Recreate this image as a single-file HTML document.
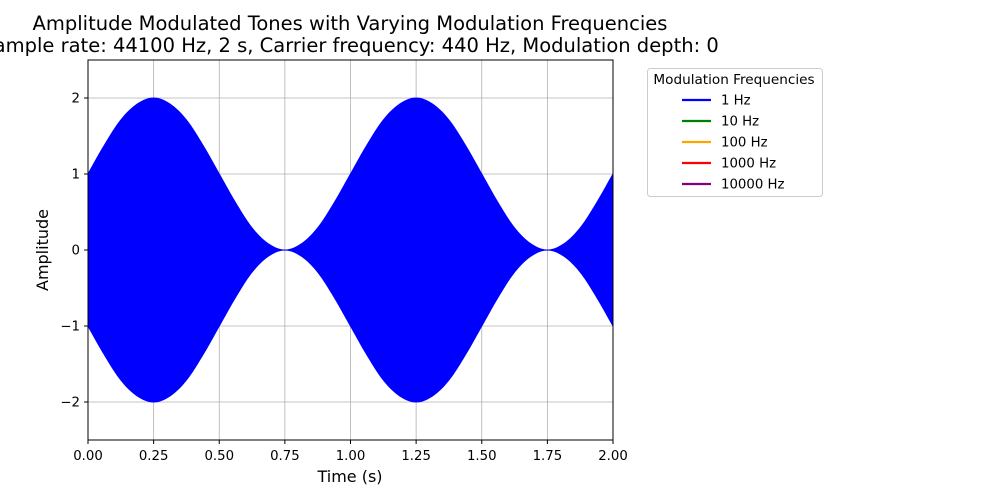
<!DOCTYPE html>
<html><head><meta charset="utf-8"><style>body{margin:0;background:#fff}svg{display:block;font-family:"DejaVu Sans","Liberation Sans",sans-serif}</style></head>
<body>
<svg id="chart" width="1000" height="500" viewBox="0 0 1000 500">
<rect width="1000" height="500" fill="#fff"/>
<g id="grid"></g>
<g id="plot"></g>
<rect x="88" y="60" width="525" height="380" fill="none" stroke="#000" stroke-width="1"/>
<g id="xt"></g>
<g id="yt"></g>
<text x="350" y="30" text-anchor="middle" font-size="19.5">Amplitude Modulated Tones with Varying Modulation Frequencies</text>
<text x="350" y="52" text-anchor="middle" font-size="19.5">Sample rate: 44100 Hz, 2 s, Carrier frequency: 440 Hz, Modulation depth: 0</text>
<text x="350" y="482" text-anchor="middle" font-size="16">Time (s)</text>
<text transform="translate(48,250) rotate(-90)" text-anchor="middle" font-size="16">Amplitude</text>
<g id="legend">
<rect x="647.5" y="68.5" width="175" height="128" rx="3" fill="#fff" stroke="#ccc"/>
<text x="734" y="84" text-anchor="middle" font-size="13.6">Modulation Frequencies</text>
</g>
</svg>
<script>
const xTicks=[0,0.25,0.5,0.75,1,1.25,1.5,1.75,2];
const xTickLabels=["0.00","0.25","0.50","0.75","1.00","1.25","1.50","1.75","2.00"];
const yTicks=[-2,-1,0,1,2];
const yTickLabels=["\u22122","\u22121","0","1","2"];
const envTimes=[0,0.0625,0.125,0.1875,0.25,0.3125,0.375,0.4375,0.5,0.5625,0.625,0.6875,0.75,0.8125,0.875,0.9375,1,1.0625,1.125,1.1875,1.25,1.3125,1.375,1.4375,1.5,1.5625,1.625,1.6875,1.75,1.8125,1.875,1.9375,2];
const envValues=[1,1.38,1.71,1.92,2,1.92,1.71,1.38,1,0.62,0.29,0.08,0,0.08,0.29,0.62,1,1.38,1.71,1.92,2,1.92,1.71,1.38,1,0.62,0.29,0.08,0,0.08,0.29,0.62,1];
const seriesNames=["1 Hz","10 Hz","100 Hz","1000 Hz","10000 Hz"];
const seriesColors=["blue","green","orange","red","purple"];
const NS="http://www.w3.org/2000/svg";
const X=t=>88+(t-0)/(2-0)*525;
const Y=v=>250-v*76;
function mk(tag,attrs,parent){const e=document.createElementNS(NS,tag);for(const k in attrs)e.setAttribute(k,attrs[k]);parent.appendChild(e);return e;}
const grid=document.getElementById('grid'),xt=document.getElementById('xt'),yt=document.getElementById('yt');
xTicks.forEach((t,i)=>{
 const g=mk('line',{x1:X(t),x2:X(t),y1:60,y2:440,stroke:'#b0b0b0','stroke-width':0.8},grid);
 
 
 const tk=mk('line',{x1:X(t),x2:X(t),y1:440,y2:444,stroke:'#000'},xt);
 
 
 const l=mk('text',{x:X(t),y:460,'text-anchor':'middle','font-size':13.3},xt);l.textContent=xTickLabels[i];
 
 
});
yTicks.forEach((v,i)=>{
 const g=mk('line',{x1:88,x2:613,y1:Y(v),y2:Y(v),stroke:'#b0b0b0','stroke-width':0.8},grid);
 
 
 const tk=mk('line',{x1:84,x2:88,y1:Y(v),y2:Y(v),stroke:'#000'},yt);
 
 
 const l=mk('text',{x:80,y:Y(v)+4.5,'text-anchor':'end','font-size':13.3},yt);l.textContent=yTickLabels[i];
 
 
});
function smooth(pts){let out=[];for(let i=0;i<pts.length-1;i++){const p0=pts[Math.max(0,i-1)],p1=pts[i],p2=pts[i+1],p3=pts[Math.min(pts.length-1,i+2)];for(let s=0;s<10;s++){const u=s/10,u2=u*u,u3=u2*u;const f=(a,b,c,d)=>0.5*(2*b+(-a+c)*u+(2*a-5*b+4*c-d)*u2+(-a+3*b-3*c+d)*u3);out.push([f(p0[0],p1[0],p2[0],p3[0]),f(p0[1],p1[1],p2[1],p3[1])]);}}out.push(pts[pts.length-1]);return out;}
const envTop=smooth(envTimes.map((t,i)=>[t,envValues[i]]));
let d='M'+envTop.map(p=>X(p[0]).toFixed(2)+','+Y(p[1]).toFixed(2)).join(' L');
d+=' L'+envTop.slice().reverse().map(p=>X(p[0]).toFixed(2)+','+Y(-p[1]).toFixed(2)).join(' L')+' Z';
const env=mk('path',{d:d,fill:seriesColors[0],stroke:seriesColors[0],'stroke-width':1},document.getElementById('plot'));


const lg=document.getElementById('legend');
seriesNames.forEach((n,i)=>{
 const y=100+i*21;
 const ln=mk('line',{x1:682,x2:711,y1:y,y2:y,stroke:seriesColors[i],'stroke-width':2.2},lg);
 
 
 const t=mk('text',{x:721,y:y+4.5,'font-size':13.3},lg);t.textContent=n;
 
 
});
</script>
</body></html>
